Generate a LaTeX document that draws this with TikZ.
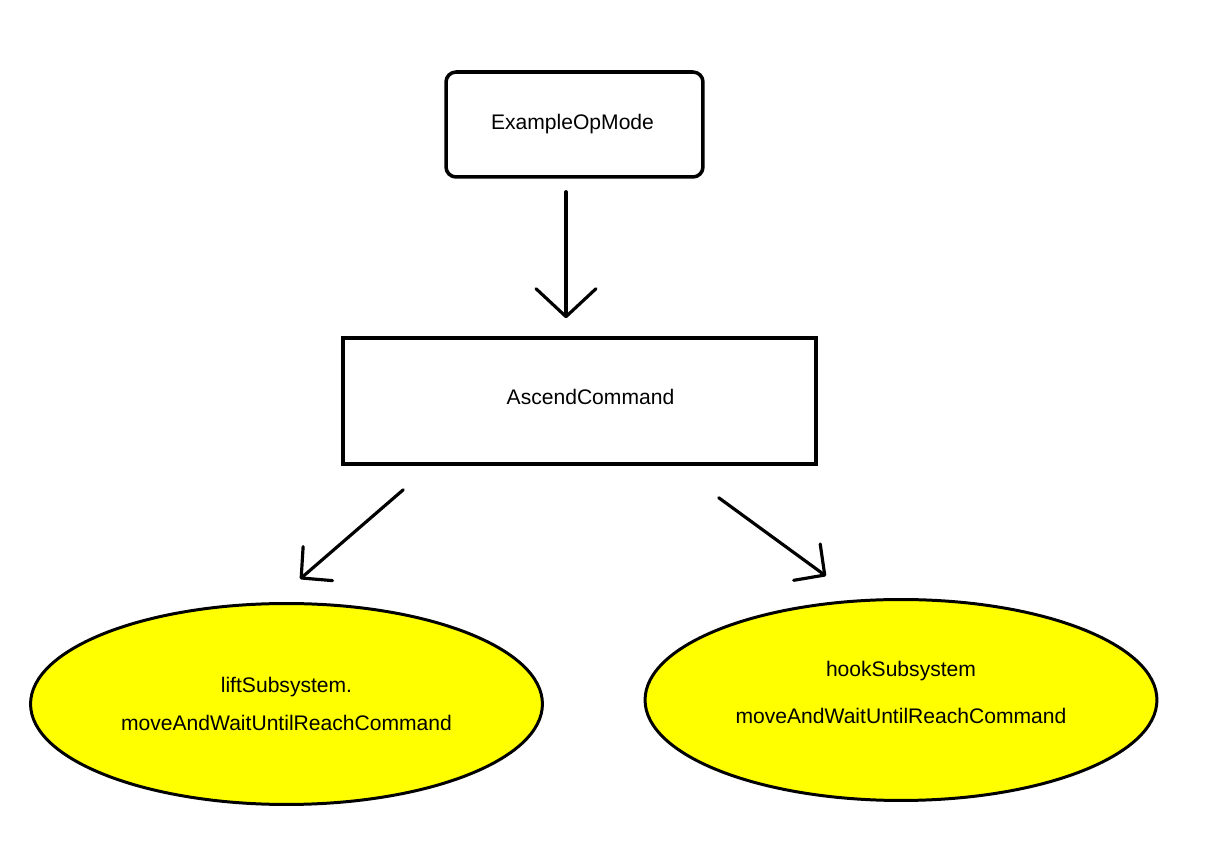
\documentclass[tikz,border=0pt]{standalone}
\usepackage{fontspec}
\setmainfont{Liberation Sans}
\usepackage{xcolor}
\definecolor{paintYellow}{HTML}{FFFF00}
\usetikzlibrary{arrows.meta, positioning, shapes.geometric, calc}

\begin{document}
\begin{tikzpicture}[
    x=0.02cm, y=-0.02cm,
    box/.style    ={rectangle, draw, line width=2pt, align=center,
                    font=\fontsize{12}{14.4}\selectfont},
    opmode/.style ={box, rounded corners=0.2cm,
                    minimum width=5.14cm, minimum height=2.1cm},
    command/.style={box, minimum width=9.46cm, minimum height=2.52cm},
    subsys/.style ={ellipse, draw, line width=1.7pt, fill=paintYellow,
                    minimum width=10.24cm, minimum height=4.02cm,
                    align=center, font=\fontsize{12}{14.4}\selectfont},
    arrow/.style  ={line width=1.8pt, line cap=round, line join=round},
    bigbarb/.style={arrow, -{Straight Barb[length=0.56cm, width=1.2cm, line cap=round, line join=round]}},
    barb/.style   ={arrow, -{Straight Barb[length=0.44cm, width=0.9cm, line cap=round, line join=round]}}
]
\useasboundingbox (0,0) rectangle (1205,857);

\node[opmode]  (exmode) at (574.5,124.5) {\hspace*{-0.08cm}ExampleOpMode};
\node[command, text depth=0.16cm] (ascend) at (579.5,401) {\hspace*{0.44cm}AscendCommand};
\node[subsys]  (lift)   at (286.5,704)   {liftSubsystem.\\[7pt]moveAndWaitUntilReachCommand};
\node[subsys, text depth=0.3cm] (hook) at (901,700) {hookSubsystem\\[12pt]moveAndWaitUntilReachCommand};

\draw[bigbarb] ($(exmode.south)+(-8.5,13)$) -- ($(ascend.north)+(-13.5,-18)$);
\draw[barb] ($(ascend.south west)+(62,24)$) -- ($(lift.north)+(13.5,-23)$);
\draw[barb] ($(ascend.south east)+(-99,32)$) -- ($(hook.north)+(-75,-22)$);
\end{tikzpicture}
\end{document}
